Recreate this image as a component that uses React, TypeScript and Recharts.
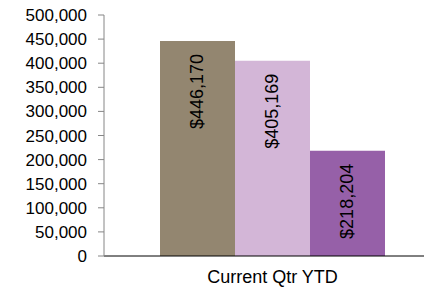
import { BarChart, Bar, XAxis, YAxis, LabelList } from 'recharts';

const categories = ['Current Qtr YTD'];
const firstValues = [446170];
const secondValues = [405169];
const thirdValues = [218204];
const yTicks = [0, 50000, 100000, 150000, 200000, 250000, 300000, 350000, 400000, 450000, 500000];

const data = categories.map((name, i) => ({
  name,
  first: firstValues[i],
  second: secondValues[i],
  third: thirdValues[i],
}));

const FONT = '"Liberation Sans", Arial, sans-serif';

const money = (v: number) => '$' + v.toLocaleString('en-US');

function BarLabel(props: any) {
  const { x, y, width, value } = props;
  const cx = x + width / 2;
  const ty = y + 13;
  return (
    <text
      x={cx}
      y={ty}
      transform={`rotate(-90, ${cx}, ${ty})`}
      textAnchor="end"
      dominantBaseline="central"
      fontSize={18}
      fontFamily={FONT}
      fill="#000"
    >
      {money(value)}
    </text>
  );
}

export default function App() {
  return (
    <div style={{ position: 'absolute', left: 0, top: 0, width: 424, height: 288, overflow: 'hidden', background: '#fff' }}>
      <BarChart
        width={441}
        height={288}
        data={data}
        margin={{ top: 15, right: 0, left: 0, bottom: 0 }}
        barGap={0}
      >
        <XAxis
          dataKey="name"
          axisLine={{ stroke: '#000' }}
          tickLine={false}
          tickSize={0}
          tickMargin={14}
          height={32}
          tick={{ fill: '#000', fontSize: 18, fontFamily: FONT }}
        />
        <YAxis
          width={104}
          domain={[0, 500000]}
          ticks={yTicks}
          interval={0}
          tickFormatter={(v: number) => v.toLocaleString('en-US')}
          axisLine={{ stroke: '#868686' }}
          tickLine={{ stroke: '#868686' }}
          tickSize={6}
          tickMargin={11}
          tick={{ fill: '#000', fontSize: 17, fontFamily: FONT }}
        />
        <Bar dataKey="first" fill="#938670" barSize={75} isAnimationActive={false}>
          <LabelList dataKey="first" content={BarLabel} />
        </Bar>
        <Bar dataKey="second" fill="#d3b6d7" barSize={75} isAnimationActive={false}>
          <LabelList dataKey="second" content={BarLabel} />
        </Bar>
        <Bar dataKey="third" fill="#9660a8" barSize={75} isAnimationActive={false}>
          <LabelList dataKey="third" content={BarLabel} />
        </Bar>
      </BarChart>
    </div>
  );
}
